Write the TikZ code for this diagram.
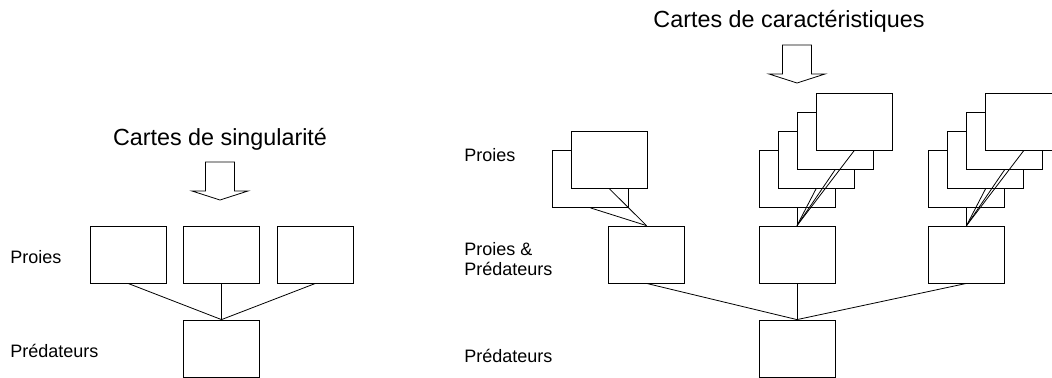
\documentclass[tikz,border=0pt]{standalone}
\usepackage{fontspec}
\setmainfont{Liberation Sans}
\usepackage{tikz}
\usetikzlibrary{positioning}

\begin{document}
\begin{tikzpicture}[x=0.75pt,y=-0.75pt,line width=0.6pt,
    carte/.style={draw,fill=white,minimum width=57pt,minimum height=42.75pt,inner sep=0pt},
    lbl/.style={anchor=base west,inner sep=0pt,font=\fontsize{13.5}{15}\selectfont},
    titre/.style={anchor=base,font=\fontsize{17.5}{20}\selectfont}]
  \useasboundingbox (0,0) rectangle (1052,378);

  % titles and big arrows
  \node[titre] (tSing) at (220,145) {Cartes de singularité};
  \node[titre] (tCar) at (789,28) {Cartes de caractéristiques};
  \foreach \ax/\ay in {220/162,797/45}{
    \draw (\ax-14.5,\ay) -- (\ax+14.5,\ay) -- (\ax+14.5,\ay+29) -- (\ax+28,\ay+29)
      -- (\ax,\ay+38) -- (\ax-28,\ay+29) -- (\ax-14.5,\ay+29) -- cycle;
  }

  % row labels
  \node[lbl] (lProiesL) at (10,263) {Proies};
  \node[lbl] (lPredL) at (10,357) {Prédateurs};
  \node[lbl] (lProiesR) at (464,161) {Proies};
  \node[lbl,anchor=west,align=left] (lPP) at (464,259.5) {Proies \&\\Prédateurs};
  \node[lbl] (lPredR) at (464,362) {Prédateurs};

  % left: singularity maps
  \node[carte] (s1) at (128,254.5) {};
  \node[carte] (s2) at (221.5,254.5) {};
  \node[carte] (s3) at (315.5,254.5) {};
  \node[carte] (predL) at (221.5,348.5) {};
  \foreach \k in {1,2,3}{\draw (s\k.south) -- (predL.north);}

  % right: feature map stacks (back to front)
  \foreach \k in {1,2}{\node[carte] (a\k) at ({590.5+(\k-1)*19},{179-(\k-1)*19}) {};}
  \foreach \k in {1,...,4}{\node[carte] (b\k) at ({797+(\k-1)*19},{179-(\k-1)*19}) {};}
  \foreach \k in {1,...,4}{\node[carte] (c\k) at ({966.5+(\k-1)*19},{179-(\k-1)*19}) {};}
  \node[carte] (ppA) at (646.5,254.5) {};
  \node[carte] (ppB) at (797,254.5) {};
  \node[carte] (ppC) at (966.5,254.5) {};
  \node[carte] (predR) at (797,348.5) {};

  \foreach \k in {1,2}{\draw (a\k.south) -- (ppA.north);}
  \foreach \k in {1,...,4}{\draw (b\k.south) -- (ppB.north);}
  \foreach \k in {1,...,4}{\draw (c\k.south) -- (ppC.north);}
  \foreach \g in {A,B,C}{\draw (pp\g.south) -- (predR.north);}
\end{tikzpicture}
\end{document}
